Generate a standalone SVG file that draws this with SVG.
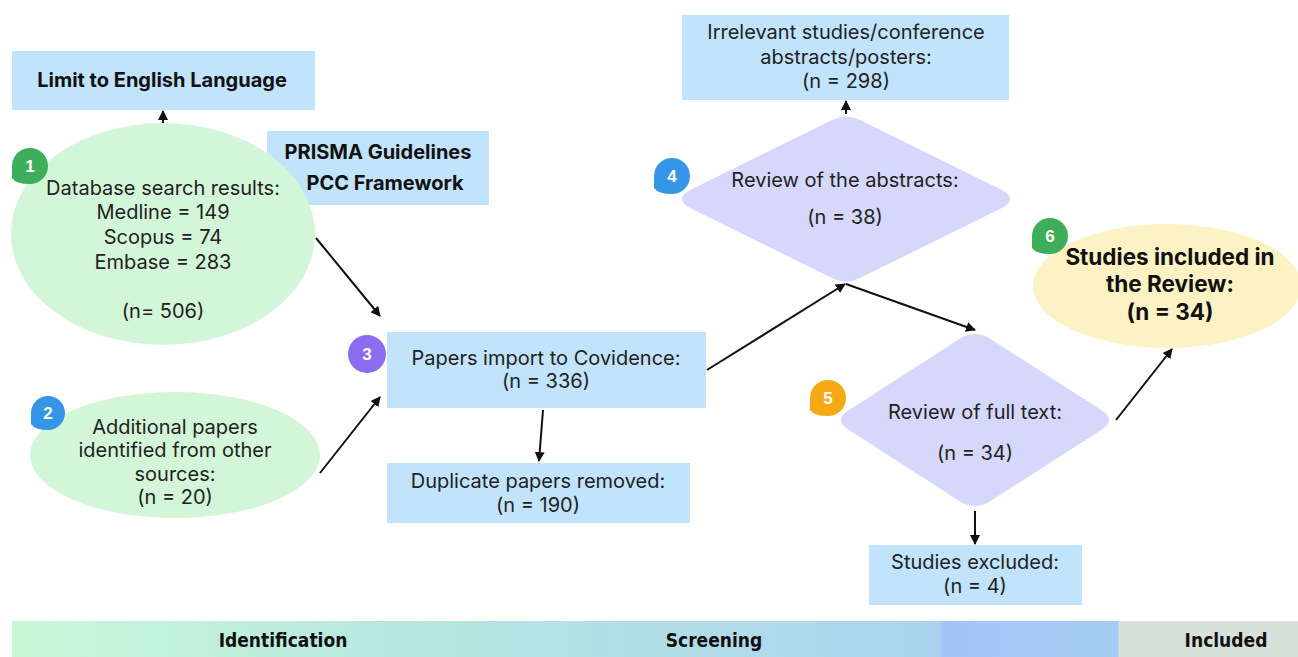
<svg xmlns="http://www.w3.org/2000/svg" width="1298" height="657" viewBox="0 0 1298 657">
<defs>
<marker id="ah" viewBox="0 0 10 10" refX="9" refY="5" markerWidth="5" markerHeight="5" orient="auto-start-reverse" markerUnits="strokeWidth">
<path d="M0,0 L10,5 L0,10 z" fill="#111"/>
</marker>
<linearGradient id="bar" x1="0" y1="0" x2="1" y2="0">
<stop offset="0" stop-color="#c9f8d8"/>
<stop offset="0.35" stop-color="#b6e4e0"/>
<stop offset="0.72" stop-color="#acd3ee"/>
<stop offset="0.725" stop-color="#a3c4f6"/>
<stop offset="0.86" stop-color="#a6ccf2"/>
<stop offset="0.861" stop-color="#d5e1d9"/>
<stop offset="1" stop-color="#d5e1d9"/>
</linearGradient>
<style>
.box{fill:#c1e3fb}
.ell{fill:#d4f6d8}
.dia{fill:#d5d8fa}
.t{font-family:"Inter","Liberation Sans",sans-serif;font-size:20px;fill:#222;text-anchor:middle}
.b{font-family:"Inter","Liberation Sans",sans-serif;font-size:20px;font-weight:700;fill:#111;text-anchor:middle}
.n{font-family:"Liberation Sans",sans-serif;font-size:17px;font-weight:700;fill:#fff;text-anchor:middle}
.c{stroke:#111;stroke-width:2;fill:none;marker-end:url(#ah)}
.bt{font-family:"DejaVu Sans Condensed","Liberation Sans",sans-serif;font-stretch:condensed;font-size:19px;font-weight:700;fill:#111;text-anchor:middle}
</style>
</defs>
<rect x="0" y="0" width="1298" height="657" fill="#fff"/>

<g id="limit">
<rect class="box" x="12" y="51" width="303" height="59"/>
<text class="b" x="162" y="87">Limit to English Language</text>
</g>

<g id="prisma">
<rect class="box" x="267" y="131" width="222" height="74"/>
<text class="b" x="378" y="159">PRISMA Guidelines</text>
<text class="b" x="385" y="190">PCC Framework</text>
</g>

<g id="db">
<ellipse class="ell" cx="163" cy="234" rx="152" ry="111"/>
<text class="t" x="163" y="195">Database search results:</text>
<text class="t" x="163" y="219">Medline = 149</text>
<text class="t" x="163" y="244">Scopus = 74</text>
<text class="t" x="163" y="269">Embase = 283</text>
<text class="t" x="163" y="318">(n= 506)</text>
<path d="M30,184 Q16,184 12,178 L12,166 A18,18 0 0 1 30,148 A18,18 0 0 1 48,166 A18,18 0 0 1 30,184 Z" fill="#3fae5a"/>
<text class="n" x="30" y="172">1</text>
</g>

<g id="other">
<ellipse class="ell" cx="175" cy="455" rx="145" ry="63"/>
<text class="t" x="175" y="434">Additional papers</text>
<text class="t" x="175" y="457">identified from other</text>
<text class="t" x="175" y="481">sources:</text>
<text class="t" x="175" y="504">(n = 20)</text>
<path d="M48,430 Q35,430 31,424 L31,413 A17,17 0 0 1 48,396 A17,17 0 0 1 65,413 A17,17 0 0 1 48,430 Z" fill="#3596e8"/>
<text class="n" x="48" y="419">2</text>
</g>

<g id="import">
<rect class="box" x="387" y="332" width="319" height="76"/>
<text class="t" x="546" y="365">Papers import to Covidence:</text>
<text class="t" x="546" y="388">(n = 336)</text>
<circle cx="367" cy="354" r="19" fill="#8c6cf0"/>
<text class="n" x="367" y="360">3</text>
</g>

<g id="dup">
<rect class="box" x="387" y="463" width="303" height="60"/>
<text class="t" x="538" y="488">Duplicate papers removed:</text>
<text class="t" x="538" y="512">(n = 190)</text>
</g>

<g id="irrelevant">
<rect class="box" x="682" y="15" width="327" height="85"/>
<text class="t" x="846" y="39">Irrelevant studies/conference</text>
<text class="t" x="846" y="64">abstracts/posters:</text>
<text class="t" x="846" y="88">(n = 298)</text>
</g>

<g id="abstracts">
<path class="dia" d="M832,120 Q846,113 860,120 L1002,190 Q1018,199 1002,208 L860,278 Q846,285 832,278 L690,208 Q674,199 690,190 Z"/>
<text class="t" x="845" y="187">Review of the abstracts:</text>
<text class="t" x="845" y="224">(n = 38)</text>
<path d="M672,194 Q658,194 654,188 L654,176 A18,18 0 0 1 672,158 A18,18 0 0 1 690,176 A18,18 0 0 1 672,194 Z" fill="#3596e8"/>
<text class="n" x="672" y="182">4</text>
</g>

<g id="fulltext">
<path class="dia" d="M961,338 Q975,330 989,338 L1101,410 Q1117,420 1101,430 L989,502 Q975,510 961,502 L849,430 Q833,420 849,410 Z"/>
<text class="t" x="975" y="419">Review of full text:</text>
<text class="t" x="975" y="460">(n = 34)</text>
<path d="M828,416 Q814,416 810,410 L810,398 A18,18 0 0 1 828,380 A18,18 0 0 1 846,398 A18,18 0 0 1 828,416 Z" fill="#f5a915"/>
<text class="n" x="828" y="404">5</text>
</g>

<g id="excluded">
<rect class="box" x="869" y="545" width="213" height="60"/>
<text class="t" x="975" y="569">Studies excluded:</text>
<text class="t" x="975" y="593">(n = 4)</text>
</g>

<g id="included">
<ellipse cx="1167" cy="286" rx="134" ry="62" fill="#fdf2c3"/>
<text class="b" x="1170" y="265" style="font-size:22.5px">Studies included in</text>
<text class="b" x="1170" y="292" style="font-size:22.5px">the Review:</text>
<text class="b" x="1170" y="320" style="font-size:22.5px">(n = 34)</text>
<path d="M1050,254 Q1036,254 1032,248 L1032,236 A18,18 0 0 1 1050,218 A18,18 0 0 1 1068,236 A18,18 0 0 1 1050,254 Z" fill="#3fae5a"/>
<text class="n" x="1050" y="242">6</text>
</g>

<g id="connectors">
<line class="c" x1="163" y1="123" x2="163" y2="111"/>
<line class="c" x1="316" y1="238" x2="380" y2="316"/>
<line class="c" x1="320" y1="473" x2="380" y2="397"/>
<line class="c" x1="543" y1="410" x2="539" y2="461"/>
<line class="c" x1="707" y1="370" x2="845" y2="284"/>
<line class="c" x1="846" y1="114" x2="846" y2="101"/>
<line class="c" x1="846" y1="284" x2="975" y2="330"/>
<line class="c" x1="975" y1="511" x2="975" y2="544"/>
<line class="c" x1="1116" y1="420" x2="1172" y2="349"/>
</g>

<g id="phases">
<rect x="12" y="621" width="1286" height="36" fill="url(#bar)"/>
<text class="bt" x="283" y="647">Identification</text>
<text class="bt" x="714" y="647">Screening</text>
<text class="bt" x="1226" y="647">Included</text>
</g>
</svg>
